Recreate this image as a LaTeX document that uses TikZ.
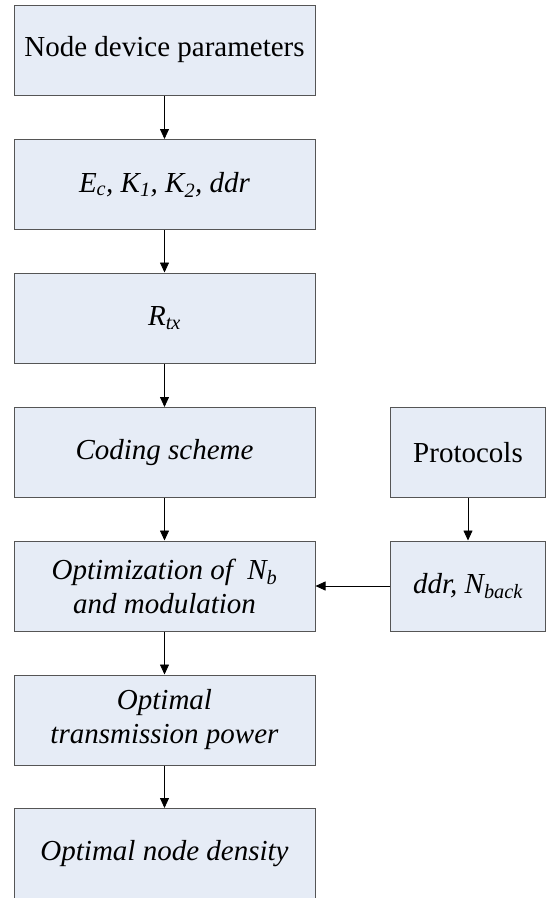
\documentclass[tikz,border=0pt]{standalone}
\usepackage{fontspec}
\setmainfont{Liberation Serif}
\usetikzlibrary{arrows.meta}

\definecolor{boxfill}{RGB}{230,236,246}
\definecolor{boxline}{RGB}{85,85,85}

\begin{document}
\begin{tikzpicture}[x=1pt,y=-1pt,
    blk/.style={draw=boxline, fill=boxfill, line width=1pt, inner sep=0pt,
      minimum width=301pt, minimum height=90pt, align=center,
      font=\fontsize{29}{34}\selectfont},
    sideblk/.style={blk, minimum width=155pt},
    flow/.style={-{Triangle[length=10pt,width=9pt]}, line width=0.8pt}]

          \useasboundingbox (0,0) rectangle (546,898);

          % main column
          \node[blk] (dev) at (164.5,50) {Node device parameters};
          \node[blk] (par) at (164.5,184.5) {\itshape E\textsubscript{c}, K\textsubscript{1}, K\textsubscript{2}, ddr};
          \node[blk] (rtx) at (164.5,318) {\itshape R\textsubscript{tx}};
          \node[blk] (cod) at (164.5,452.5) {\itshape Coding scheme};
          \node[blk] (opt) at (164.5,586) {\itshape Optimization of~ N\textsubscript{b}\\ \itshape and modulation};
          \node[blk] (pow) at (164.5,720) {\itshape Optimal\\ \itshape transmission power};
          \node[blk] (dens) at (164.5,853.5) {\itshape Optimal node density};

          % side column
          \node[sideblk] (prot) at (468,452.5) {Protocols};
          \node[sideblk] (back) at (468,586) {\itshape ddr, N\textsubscript{back}};

          \foreach \a/\b in {dev/par, par/rtx, rtx/cod, cod/opt, opt/pow, pow/dens, prot/back}{
            \draw[flow] (\a) -- (\b);
          }

          \draw[flow] (back) -- (opt);
        \end{tikzpicture}
\end{document}
